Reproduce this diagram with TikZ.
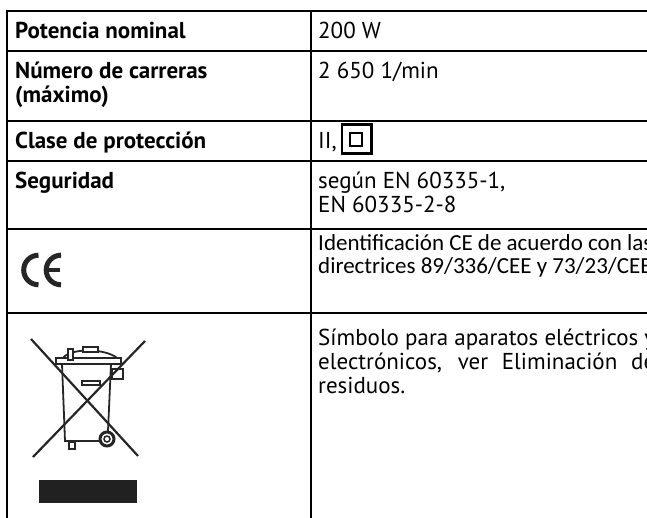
\documentclass[tikz,border=0pt]{standalone}
\usepackage{fontspec}
\setmainfont{PT Sans}
\newfontfamily\calib{Carlito}
\begin{document}
\begin{tikzpicture}[x=1pt,y=-1pt]
\useasboundingbox (0,0) rectangle (647,518);
\tikzset{
  grid/.style={line width=1.3pt, black},
  lbl/.style={anchor=base west, inner sep=0pt, font=\fontsize{23}{24}\selectfont\bfseries},
  val/.style={anchor=base west, inner sep=0pt, font=\fontsize{23}{24}\selectfont},
  cal/.style={anchor=base west, inner sep=0pt, font=\calib\fontsize{23}{24}\selectfont},
  icon/.style={line width=1.8pt, black!85},
}
% table grid
\draw[grid] (7,518) -- (7,11) -- (660,11);
\draw[grid] (311,11) -- (311,518);
\draw[grid] (7,51) -- (660,51);
\draw[grid] (7,121) -- (660,121);
\draw[grid] (7,161) -- (660,161);
\draw[grid] (7,229) -- (660,229);
\draw[grid] (7,313) -- (660,313);
% row 1
\node[lbl] (l1) at (15,38.5) {Potencia nominal};
\node[val] (v1) at (318,38.5) {200 W};
% row 2
\node[lbl] (l2) at (15,78.5) {Número de carreras};
\node[lbl] (l2b) at (15,102.5) {(máximo)};
\node[val] (v2) at (318,78.5) {2 650 1/min};
% row 3
\node[lbl] (l3) at (15,148.3) {Clase de protección};
\node[val] (v3) at (318,148.3) {II,};
\draw[line width=2.7pt] (342,124.7) rectangle (371.3,153.6);
\draw[line width=2pt] (350,132.7) rectangle (362.3,145.7);
% row 4
\node[lbl] (l4) at (15,188.5) {Seguridad};
\node[val] (v4) at (318,188.5) {según EN 60335-1,};
\node[val] (v4b) at (318,212.5) {EN 60335-2-8};
% row 5: CE
\draw[line width=5pt, black!85] (38.5,255.2) arc[start angle=270, end angle=90, radius=14.8];
\draw[line width=5pt, black!85] (61,255.2) arc[start angle=270, end angle=90, radius=14.8];
\draw[line width=4pt, black!85] (47,270) -- (60,270);
\node[cal] (v5) at (318,251) {Identificación CE de acuerdo con las};
\node[cal] (v5b) at (318,274) {directrices 89/336/CEE y 73/23/CEE};
% row 6: WEEE symbol
\draw[icon] (62,364) -- (65,441) -- (99,441);
\draw[icon] (111,364) -- (108,431);
\draw[icon] (56,358) rectangle (121,364);
\draw[icon] (63,358) .. controls (70,348) and (105,348) .. (117,358);
\draw[icon, fill=white] (83,347) rectangle (98,352);
\draw[icon, fill=white] (68,349) rectangle (73,360);
\draw[icon] (112,369) rectangle (123,379);
\draw[icon] (82,381) rectangle (100,385);
\draw[icon] (69,442) rectangle (75,449);
\draw[line width=3pt, black!85, fill=white] (107,439) circle[radius=7];
\draw[line width=1.5pt, black!85] (107,439) circle[radius=3];
\draw[line width=2.2pt, black!85] (31,339) -- (138,456);
\draw[line width=2.2pt, black!85] (145,341) -- (33,457);
\fill[black!87] (39,480) rectangle (137,503);
\node[val] (v6) at (318,345) {\makebox[337pt][s]{Símbolo para aparatos eléctricos y}};
\node[val] (v6b) at (318,369) {\makebox[337pt][s]{electrónicos, ver Eliminación de}};
\node[val] (v6c) at (318,393) {residuos.};
\end{tikzpicture}
\end{document}
